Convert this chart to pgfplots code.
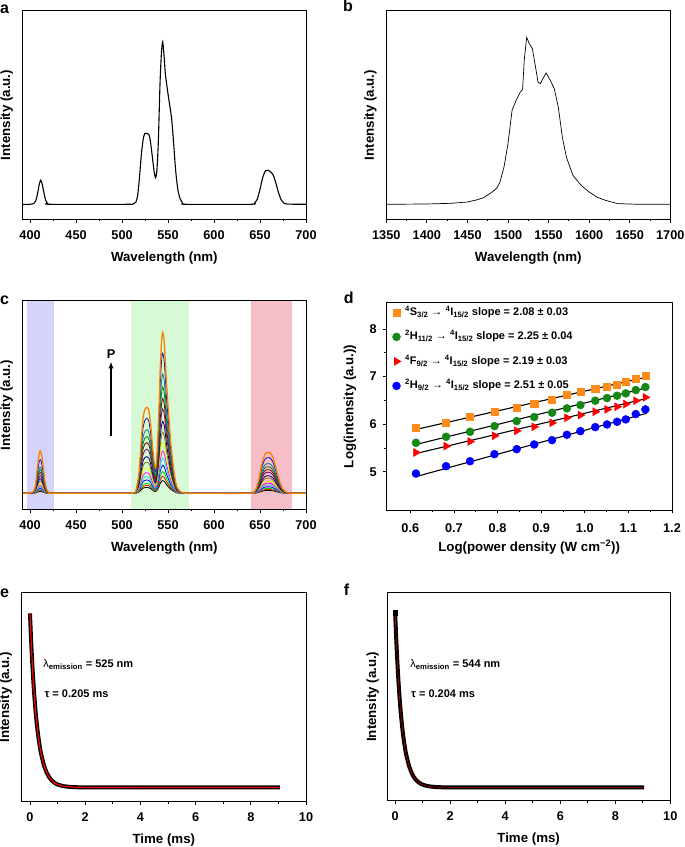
\documentclass[border=0pt]{standalone}
\usepackage{fontspec}
\setmainfont{Liberation Sans}
\usepackage{pgfplots}
\usepackage{pgfplotstable}
\pgfplotsset{compat=1.18}
\usetikzlibrary{arrows.meta}

\newcommand\tickfont{\fontsize{12.7}{14}\selectfont\bfseries}
\newcommand\labfont{\fontsize{13.3}{15}\selectfont\bfseries}
\newcommand\legfont{\fontsize{11}{13}\selectfont\bfseries}
\newcommand\letfont{\fontsize{16}{18}\selectfont\bfseries}

\definecolor{cc1}{RGB}{0,0,0}
\definecolor{cc2}{RGB}{255,0,0}
\definecolor{cc3}{RGB}{0,220,0}
\definecolor{cc4}{RGB}{0,0,255}
\definecolor{cc5}{RGB}{0,230,230}
\definecolor{cc6}{RGB}{255,0,255}
\definecolor{cc7}{RGB}{240,240,0}
\definecolor{cc8}{RGB}{128,128,0}
\definecolor{cc9}{RGB}{0,0,128}
\definecolor{cc10}{RGB}{128,0,128}
\definecolor{cc11}{RGB}{128,0,0}
\definecolor{cc12}{RGB}{0,128,0}
\definecolor{cc13}{RGB}{0,128,128}
\definecolor{cc14}{RGB}{20,20,170}
\definecolor{cc15}{RGB}{255,128,0}
\definecolor{bandB}{RGB}{212,212,250}
\definecolor{bandG}{RGB}{214,250,214}
\definecolor{bandR}{RGB}{245,190,200}
\definecolor{dOr}{RGB}{255,140,26}
\definecolor{dGr}{RGB}{20,135,20}
\definecolor{dRe}{RGB}{255,0,0}
\definecolor{dBl}{RGB}{0,0,255}

\pgfplotsset{
  panel/.style={
    scale only axis,
    axis line style={line width=0.9pt},
    every tick/.style={black, line width=0.8pt},
    tick align=outside,
    xtick pos=bottom, ytick pos=left,
    major tick length=3.5pt, minor tick length=2pt,
    tick label style={font=\tickfont},
    /pgf/number format/assume math mode=true,
    /pgf/number format/set thousands separator={},
    xticklabel style={anchor=base, inner sep=0pt, yshift=-16.8pt},
    label style={font=\labfont},
    xlabel style={at={(axis description cs:0.5,0)}, anchor=base, inner sep=0pt, yshift=-42pt},
    ylabel style={at={(axis description cs:0,0.5)}, anchor=south, inner sep=0pt, yshift=9.5pt},
  },
}

\pgfplotstableread{
x c1 c2 c3 c4 c5 c6 c7 c8 c9 c10 c11 c12 c13 c14 c15
392 16 16 16 16 16 16 16 16 16 16 16 16 16 16 16
398 16 16 16 16 16 16 16 16 16 16 16 16 16 16 16
404 16.1 16.1 16.2 16.2 16.3 16.4 16.4 16.6 16.7 16.8 17.0 17.1 17.2 17.6 18.0
406 16.4 16.6 16.7 17.0 17.3 17.6 18.0 18.6 19.1 19.8 20.4 21.0 21.6 23.1 25.0
408 17.1 17.7 18.1 19.0 19.8 20.7 21.8 23.5 25.0 26.8 28.7 30.3 32.0 36.6 42.0
410 17.8 18.6 19.2 20.6 21.9 23.3 25.0 27.5 29.9 32.7 35.6 38.0 40.7 47.8 56.0
411 17.9 18.7 19.4 20.9 22.3 23.7 25.5 28.2 30.7 33.6 36.7 39.3 42.1 49.6 58.3
412 17.8 18.7 19.3 20.7 22.1 23.5 25.2 27.8 30.2 33.1 36.1 38.6 41.3 48.6 57.0
414 17.3 17.9 18.3 19.3 20.3 21.3 22.5 24.4 26.1 28.1 30.2 32.0 33.9 39.0 45.0
416 16.6 16.8 17.1 17.5 17.9 18.4 18.9 19.7 20.5 21.4 22.4 23.2 24.0 26.3 29.0
418 16.2 16.3 16.3 16.5 16.6 16.7 16.9 17.2 17.4 17.7 18.0 18.2 18.5 19.2 20.0
421 16.0 16.0 16.0 16.1 16.1 16.1 16.1 16.1 16.2 16.2 16.2 16.3 16.3 16.4 16.5
426 16 16 16 16 16 16 16 16 16 16 16 16 16 16 16
505 16 16 16 16 16 16 16 16 16 16 16 16 16 16 16
512 16.0 16.0 16.1 16.1 16.1 16.1 16.1 16.2 16.2 16.3 16.3 16.3 16.4 16.4 16.5
515 16.1 16.2 16.2 16.3 16.4 16.5 16.6 16.7 16.9 17.0 17.2 17.3 17.5 17.7 18.0
518.5 17.4 17.9 18.4 19.3 20.1 21.0 22.2 23.6 25.0 26.8 28.4 29.9 31.6 34.3 37.0
521 19.7 21.0 22.3 24.5 26.7 29.2 32.2 36.0 39.5 44.2 48.4 52.4 56.8 63.9 71.0
523 21.2 22.9 24.7 27.8 30.8 34.2 38.4 43.6 48.5 55.0 60.8 66.2 72.3 82.2 92.0
525 21.7 23.6 25.7 29.0 32.4 36.2 40.8 46.5 51.9 59.1 65.5 71.5 78.2 89.2 100.0
527 21.8 23.8 25.9 29.3 32.8 36.6 41.4 47.2 52.7 60.1 66.7 72.8 79.7 90.9 102.0
529 21.6 23.6 25.5 28.9 32.2 35.9 40.5 46.1 51.4 58.6 64.9 70.9 77.5 88.3 99.0
531 20.8 22.4 24.1 26.9 29.7 32.8 36.7 41.4 45.9 51.9 57.2 62.3 67.9 77.0 86.0
533 19.3 20.4 21.5 23.4 25.4 27.5 30.2 33.4 36.5 40.6 44.3 47.7 51.6 57.8 64.0
535 18.0 18.7 19.5 20.7 21.9 23.2 24.9 26.9 28.8 31.4 33.7 35.8 38.2 42.1 46.0
536.5 17.8 18.5 19.1 20.1 21.2 22.3 23.6 25.3 26.9 29.0 30.7 32.5 34.5 37.8 41.0
538 19.0 20.0 21.1 22.6 24.3 26.0 28.0 30.4 33.0 36.0 38.4 41.1 44.2 49.1 54.0
540 22.3 24.4 26.8 29.9 33.5 37.0 41.3 46.4 51.8 58.0 63.1 68.9 75.3 85.7 96.0
541.5 25.9 29.1 32.9 37.8 43.4 48.9 55.5 63.5 71.9 81.6 89.6 98.6 108.6 124.9 141.0
543 28.0 32.0 36.5 42.4 49.3 56.0 64.0 73.8 83.9 95.8 105.5 116.5 128.6 148.4 168.0
544.2 28.7 32.9 37.7 44.0 51.3 58.3 66.9 77.2 88.0 100.5 110.8 122.4 135.3 156.2 177.0
546 27.9 31.8 36.3 42.1 48.9 55.5 63.4 73.0 83.1 94.8 104.4 115.2 127.2 146.7 166.0
548.5 24.5 27.3 30.6 34.8 39.7 44.4 50.1 57.0 64.3 72.7 79.6 87.4 96.0 110.1 124.0
551 21.9 23.9 26.1 29.1 32.4 35.7 39.7 44.5 49.5 55.4 60.2 65.6 71.6 81.3 91.0
553 20.0 21.3 22.8 24.7 27.0 29.2 31.8 35.0 38.4 42.3 45.5 49.1 53.1 59.6 66.0
556 18.0 18.6 19.4 20.4 21.5 22.6 23.9 25.5 27.2 29.1 30.7 32.5 34.5 37.8 41.0
559 16.6 16.8 17.1 17.4 17.8 18.1 18.5 19.0 19.6 20.2 20.7 21.3 21.9 23.0 24.0
563 16.2 16.2 16.3 16.3 16.4 16.5 16.6 16.8 16.9 17.0 17.2 17.3 17.5 17.7 18.0
568 16.0 16.0 16.0 16.1 16.1 16.1 16.1 16.1 16.1 16.2 16.2 16.2 16.2 16.3 16.3
575 16 16 16 16 16 16 16 16 16 16 16 16 16 16 16
638 16 16 16 16 16 16 16 16 16 16 16 16 16 16 16
643 16.1 16.1 16.1 16.2 16.2 16.2 16.3 16.4 16.4 16.5 16.6 16.6 16.7 16.9 17.0
646 16.3 16.5 16.6 16.8 17.0 17.2 17.5 17.9 18.1 18.6 18.9 19.2 19.6 20.4 21.0
649 17.0 17.4 17.8 18.4 19.1 19.7 20.4 21.6 22.4 23.7 24.6 25.7 26.9 29.1 31.0
651 17.7 18.3 19.0 20.0 21.1 22.1 23.4 25.3 26.7 28.8 30.4 32.2 34.1 37.8 41.0
653 18.3 19.1 20.0 21.2 22.7 24.1 25.7 28.3 30.1 32.9 35.0 37.3 39.9 44.7 49.0
655 18.7 19.6 20.6 22.1 23.9 25.4 27.4 30.3 32.4 35.8 38.1 40.9 43.9 49.5 54.5
657 18.8 19.8 20.9 22.4 24.3 26.0 28.0 31.1 33.4 36.9 39.4 42.3 45.5 51.5 56.7
660 18.8 19.8 20.9 22.5 24.4 26.0 28.1 31.3 33.5 37.0 39.6 42.5 45.7 51.7 57.0
662 18.7 19.7 20.7 22.2 24.1 25.7 27.7 30.7 32.9 36.3 38.7 41.5 44.6 50.4 55.5
664 18.5 19.3 20.3 21.7 23.3 24.8 26.6 29.4 31.4 34.5 36.7 39.3 42.1 47.4 52.0
666 18.1 18.8 19.6 20.7 22.1 23.4 24.9 27.2 28.8 31.4 33.3 35.4 37.7 42.1 46.0
668 17.6 18.1 18.8 19.6 20.7 21.6 22.8 24.6 25.8 27.8 29.2 30.9 32.7 36.0 39.0
670 17.1 17.5 17.9 18.5 19.3 19.9 20.7 22.0 22.8 24.2 25.2 26.3 27.6 29.9 32.0
672 16.7 16.9 17.2 17.6 18.0 18.5 19.0 19.7 20.3 21.1 21.8 22.5 23.2 24.7 26.0
675 16.3 16.4 16.5 16.6 16.8 17.0 17.2 17.5 17.7 18.1 18.3 18.6 18.9 19.5 20.0
679 16.1 16.1 16.1 16.2 16.2 16.2 16.3 16.4 16.4 16.5 16.6 16.6 16.7 16.9 17.0
684 16 16 16 16 16 16 16 16 16 16 16 16 16 16 16
700 16 16 16 16 16 16 16 16 16 16 16 16 16 16 16
}\tabc

\pgfplotstableread{
x s g r b
0.613 5.925 5.610 5.407 4.965
0.682 6.040 5.736 5.540 5.119
0.737 6.150 5.841 5.638 5.224
0.793 6.255 5.960 5.757 5.372
0.844 6.353 6.065 5.862 5.477
0.884 6.437 6.150 5.946 5.575
0.925 6.521 6.241 6.030 5.666
0.959 6.612 6.332 6.136 5.778
0.990 6.675 6.402 6.192 5.855
1.024 6.745 6.493 6.262 5.939
1.051 6.787 6.549 6.311 5.995
1.074 6.836 6.598 6.367 6.051
1.094 6.886 6.647 6.423 6.101
1.117 6.956 6.717 6.493 6.213
1.139 7.019 6.780 6.563 6.311
}\tabd

\pgfplotstableread{
t e f
0 188.3 185.7
0.03 168.3 165.4
0.06 150.5 147.6
0.1 130.0 126.9
0.15 108.6 105.6
0.2 91.2 88.2
0.25 77.0 74.1
0.3 65.5 62.7
0.35 56.0 53.4
0.4 48.3 45.9
0.5 36.9 34.8
0.6 29.3 27.5
0.7 24.3 22.6
0.8 20.9 19.5
0.9 18.7 17.4
1.0 17.2 16.0
1.2 15.6 14.5
1.5 14.7 13.6
2.0 14.3 13.3
4.0 14.3 13.3
6.0 14.3 13.3
9.05 14.3 13.3
}\tabef

\begin{document}
\begin{tikzpicture}
\path[use as bounding box] (0pt,0pt) rectangle (685pt,847pt);

% ---------- a ----------
\begin{axis}[panel, at={(22.7pt,627.7pt)}, anchor=south west,
  width=283.3pt, height=208.6pt,
  xmin=392, xmax=700, ymin=0, ymax=208.6,
  xtick={400,450,...,700}, minor x tick num=1, ytick=\empty,
  xlabel={Wavelength (nm)}, ylabel={Intensity (a.u.)}]
\addplot[black, line width=1.1pt, smooth, tension=0.4] coordinates {
(392,15) (400,15) (404,15.8) (406,18) (408,25) (410,35) (411.5,39) (413,36) (415,27) (417,19) (419,16) (422,15)
(505,15) (512,15.3) (515,17) (517,24) (519,42) (521,65) (523,80) (524.5,85.5) (527,86) (529.5,84) (531,77)
(533,62) (535,47) (536.5,41.5) (538,50) (539.5,79) (541.3,136) (542.8,166) (544.2,177.6) (546,160) (547,146)
(549,132) (550.5,122) (552,113) (554,100) (556,77) (558,52) (559.5,38) (561,28) (563,21) (566,16) (570,15)
(640,15) (644,16.5) (647,20) (650,30) (653,42) (656,48.5) (659,49) (662,47) (664.5,44) (667,37) (670,27)
(673,19.5) (676,16.3) (680,15.2) (700,15)};
\end{axis}

% ---------- b ----------
\begin{axis}[panel, at={(386.3pt,627.7pt)}, anchor=south west,
  width=284pt, height=208.6pt,
  xmin=1350, xmax=1700, ymin=0, ymax=208.6,
  xtick={1350,1400,...,1700}, minor x tick num=1, ytick=\empty,
  xlabel={Wavelength (nm)}, ylabel={Intensity (a.u.)}]
\addplot[black, line width=0.7pt] coordinates {
(1350,15) (1400,15.3) (1430,16) (1450,17.3) (1462,19.5) (1470,21.7) (1480,27) (1486,31) (1490,37) (1495,52)
(1500,75.7) (1505,109) (1510,119) (1515,127) (1518,130) (1520,159) (1523,182) (1526,176) (1530,170.7)
(1534,152) (1537,137) (1540,135.7) (1543,140.7) (1547,146.3) (1552,139) (1557,130.7) (1562,112) (1567,82)
(1572,62) (1580,44) (1590,34) (1600,27.3) (1610,22) (1620,19) (1635,15.7) (1660,15) (1700,15)};
\end{axis}

% ---------- c ----------
\begin{axis}[panel, at={(22.7pt,337.7pt)}, anchor=south west,
  width=283.3pt, height=208.6pt,
  xmin=392, xmax=700, ymin=0, ymax=208.6,
  xtick={400,450,...,700}, minor x tick num=1, ytick=\empty,
  axis on top,
  xlabel={Wavelength (nm)}, ylabel={Intensity (a.u.)}]
\addplot[draw=none, fill=bandB] coordinates {(397,0) (426,0) (426,208.6) (397,208.6)} -- cycle;
\addplot[draw=none, fill=bandG] coordinates {(510,0) (573,0) (573,208.6) (510,208.6)} -- cycle;
\addplot[draw=none, fill=bandR] coordinates {(640,0) (685,0) (685,208.6) (640,208.6)} -- cycle;
\pgfplotsinvokeforeach{1,...,14}{
  \addplot[cc#1, line width=0.8pt, smooth, tension=0.4] table[x=x, y=c#1]{\tabc};
}
\addplot[cc15, line width=1.3pt, smooth, tension=0.4] table[x=x, y=c15]{\tabc};
\draw[line width=1.3pt, -{Latex[length=7pt,width=5pt]}] (axis cs:488,73.3) -- (axis cs:488,148);
\node[font=\tickfont, anchor=base] at (axis cs:488,150.5) {P};
\end{axis}

% ---------- d ----------
\begin{axis}[panel, at={(386.3pt,337pt)}, anchor=south west,
  width=285.7pt, height=207.3pt,
  xmin=0.545, xmax=1.2, ymin=4.2, ymax=8.55,
  xtick={0.6,0.7,...,1.2}, minor x tick num=1,
  ytick={5,6,7,8}, minor y tick num=1,
  xticklabel style={yshift=-2pt, /pgf/number format/.cd, fixed, fixed zerofill, precision=1},
  yticklabel style={anchor=east, inner sep=0pt, xshift=-5.8pt},
  xlabel={Log(power density (W cm\textsuperscript{−2}))},
  ylabel={Log(intensity (a.u.))},
  ylabel style={yshift=20.5pt},
  legend cell align=left,
  legend style={draw=none, fill=none, at={(axis description cs:0,1)}, anchor=north west,
    xshift=3pt, yshift=-1pt, font=\legfont, row sep=11.5pt, column sep=3.5pt,
    nodes={inner sep=0.5pt, text height=9pt, text depth=3pt}}]
\addplot[only marks, mark=square*, mark size=3.6pt, color=dOr] table[x=x, y=s]{\tabd};
\addlegendentry{\textsuperscript{4}S\textsubscript{3/2} {\mdseries→} \textsuperscript{4}I\textsubscript{15/2} slope = 2.08 ± 0.03}
\addplot[only marks, mark=*, mark size=4pt, color=dGr] table[x=x, y=g]{\tabd};
\addlegendentry{\textsuperscript{2}H\textsubscript{11/2} {\mdseries→} \textsuperscript{4}I\textsubscript{15/2} slope = 2.25 ± 0.04}
\addplot[only marks, mark=triangle*, mark size=4.6pt, mark options={rotate=-90}, color=dRe] table[x=x, y=r]{\tabd};
\addlegendentry{\textsuperscript{4}F\textsubscript{9/2} {\mdseries→} \textsuperscript{4}I\textsubscript{15/2} slope = 2.19 ± 0.03}
\addplot[only marks, mark=*, mark size=4pt, color=dBl] table[x=x, y=b]{\tabd};
\addlegendentry{\textsuperscript{2}H\textsubscript{9/2} {\mdseries→} \textsuperscript{4}I\textsubscript{15/2} slope = 2.51 ± 0.05}
\addplot[black, line width=1.1pt, forget plot] coordinates {(0.613,5.89) (1.142,6.99)};
\addplot[black, line width=1.1pt, forget plot] coordinates {(0.613,5.575) (1.142,6.765)};
\addplot[black, line width=1.1pt, forget plot] coordinates {(0.613,5.385) (1.142,6.54)};
\addplot[black, line width=1.1pt, forget plot] coordinates {(0.613,4.90) (1.142,6.23)};
\end{axis}

% ---------- e ----------
\begin{axis}[panel, at={(21.7pt,45.3pt)}, anchor=south west,
  width=284.3pt, height=209pt,
  xmin=-0.3, xmax=10, ymin=0, ymax=209,
  xtick={0,2,...,10}, minor x tick num=1, ytick=\empty,
  xlabel={Time (ms)}, ylabel={Intensity (a.u.)}]
\addplot[black, line width=4pt, smooth, tension=0.3] table[x=t, y=e]{\tabef};
\addplot[red, line width=1.2pt, smooth, tension=0.3] table[x=t, y=e]{\tabef};
\node[anchor=base west, font=\legfont, inner sep=0pt] at (axis cs:0.48,134.4) {{\mdseries λ}\textsubscript{emission} = 525 nm};
\node[anchor=base west, font=\legfont, inner sep=0pt] at (axis cs:0.52,104) {τ = 0.205 ms};
\end{axis}

% ---------- f ----------
\begin{axis}[panel, at={(387pt,46.3pt)}, anchor=south west,
  width=283.3pt, height=208pt,
  xmin=-0.3, xmax=10, ymin=0, ymax=208,
  xtick={0,2,...,10}, minor x tick num=1, ytick=\empty,
  xlabel={Time (ms)}, ylabel={Intensity (a.u.)}, ylabel style={yshift=-1.5pt}]
\addplot[black, line width=4pt, smooth, tension=0.3] table[x=t, y=f]{\tabef};
\addplot[red!70!black, line width=0.6pt, smooth, tension=0.3] table[x=t, y=f]{\tabef};
\addplot[only marks, mark=square*, mark size=2.2pt, black] coordinates {(0,188)};
\node[anchor=base west, font=\legfont, inner sep=0pt] at (axis cs:0.545,133.4) {{\mdseries λ}\textsubscript{emission} = 544 nm};
\node[anchor=base west, font=\legfont, inner sep=0pt] at (axis cs:0.57,103) {τ = 0.204 ms};
\end{axis}

% panel letters
\node[anchor=north west, inner sep=0pt, font=\letfont] at (0pt,842pt) {a};
\node[anchor=north west, inner sep=0pt, font=\letfont] at (343pt,847pt) {b};
\node[anchor=north west, inner sep=0pt, font=\letfont] at (0pt,551.3pt) {c};
\node[anchor=north west, inner sep=0pt, font=\letfont] at (343.7pt,555.3pt) {d};
\node[anchor=north west, inner sep=0pt, font=\letfont] at (0pt,258.7pt) {e};
\node[anchor=north west, inner sep=0pt, font=\letfont] at (343.7pt,263.7pt) {f};
\end{tikzpicture}
\end{document}
